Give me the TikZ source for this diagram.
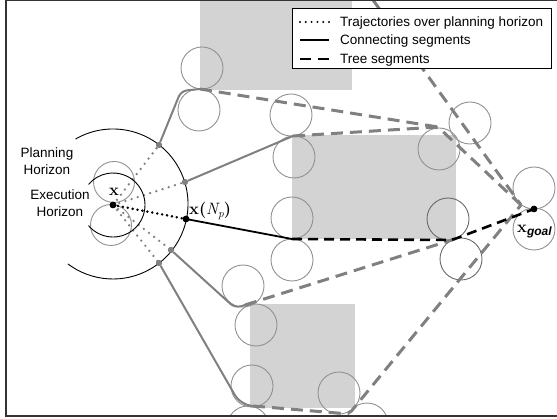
\documentclass[tikz,border=0pt]{standalone}
\usepackage{fontspec}
\newfontfamily\lsans{Liberation Sans}
\newfontfamily\lmr{Latin Modern Roman}
\definecolor{rectgray}{RGB}{211,211,211}
\definecolor{circgray}{RGB}{145,145,145}
\definecolor{circdark}{RGB}{105,105,105}
\definecolor{trajgray}{RGB}{128,128,128}
\begin{document}
\begin{tikzpicture}[x=1pt,y=-1pt,
  circ/.style={draw=circgray, line width=0.9pt},
  circd/.style={draw=circdark, line width=0.9pt},
  traj/.style={draw=trajgray, line width=2pt, rounded corners=6pt},
  tree/.style={draw=trajgray, line width=3pt, dash pattern=on 12pt off 7pt, rounded corners=4pt},
  treeblk/.style={draw=black, line width=2.6pt, dash pattern=on 10pt off 6pt, rounded corners=4pt},
  conn/.style={draw=black, line width=1.8pt},
  dotg/.style={draw=trajgray, line width=2.6pt, line cap=round, dash pattern=on 0pt off 6.5pt},
  dotb/.style={draw=black, line width=2.8pt, line cap=round, dash pattern=on 0pt off 5pt},
  hor/.style={draw=black, line width=0.9pt},
  gdot/.style={circle, fill=trajgray, inner sep=0pt, minimum size=6pt},
  bdot/.style={circle, fill=black, inner sep=0pt, minimum size=6.5pt},
  lbl/.style={font=\lsans\fontsize{13.5}{17.5}\selectfont, align=center, inner sep=0pt},
  legtxt/.style={font=\lsans\fontsize{13.5}{16}\selectfont, anchor=west, inner sep=0pt},
  mlbl/.style={font=\lmr\fontsize{16.5}{18}\selectfont, inner sep=0pt},
]
\useasboundingbox (0,0) rectangle (557,419);
\begin{scope}
\clip (6,0) rectangle (557,416);
% obstacles
\fill[rectgray] (200,0) rectangle (352,90);
\fill[rectgray] (292,135) rectangle (456,239);
\fill[rectgray] (250,304) rectangle (355,408);
% turning circles
\foreach \cx/\cy in {202/68, 199/110, 291/115, 294/157, 292/218, 292/260, 243/286,
  256/325, 252/386, 248/427, 339/393, 367/424, 470/123, 439/149, 534/188, 534/229}
  \draw[circ] (\cx,\cy) circle[radius=21];
\draw[circd] (448,219) circle[radius=21];
\draw[circd] (461,259) circle[radius=21];
\draw[circ] (114,182) circle[radius=20.5];
\draw[circ] (111,225) circle[radius=20.5];
% nodes
\node[bdot] (x) at (113,205) {};
\node[bdot] (xn) at (186,219) {};
\node[gdot] (g1) at (159,145) {};
\node[gdot] (g2) at (185,182) {};
\node[gdot] (g3) at (171,250) {};
\node[gdot] (g4) at (159,263) {};
\node[bdot] (goal) at (534,209) {};
\coordinate (a1) at (181,91);
\coordinate (t1) at (200,89);
\coordinate (t2) at (293,136);
\coordinate (m1) at (438,127);
\coordinate (mg) at (521,205);
\coordinate (top) at (373,0);
\coordinate (b1) at (235,308);
\coordinate (t3) at (245,305);
\coordinate (c) at (455,239);
\coordinate (b2) at (240,404);
\coordinate (t5) at (253,406);
\coordinate (b3) at (349,414);
\coordinate (t4) at (292,239);
\coordinate (c2) at (452,240);
% tree segments (gray dashed)
\draw[tree] (t1) -- (m1);
\draw[tree] (t2) -- (m1) -- (mg);
\draw[tree] (top) -- (mg);
\draw[tree] (t3) -- (c);
\draw[tree] (t5) -- (b3) -- (mg);
% trajectories (gray solid)
\draw[traj] (g1) -- (a1) -- (t1);
\draw[traj] (g2) -- (t2);
\draw[traj] (g3) -- (b1) -- (t3);
\draw[traj, rounded corners=10pt] (g4) -- (b2) -- (t5);
% dotted trajectories over planning horizon
\draw[dotg] (x.center) -- (g1.center);
\draw[dotg] (x.center) -- (g2.center);
\draw[dotg] (x.center) -- (g3.center);
\draw[dotg] (x.center) -- (g4.center);
\draw[dotb] (x.center) -- (xn.center);
% connecting segment and black tree segment
\draw[conn] (xn.center) -- (t4);
\draw[treeblk] (t4) -- (c2) -- (goal.center);
% horizons
\draw[hor] ([shift={(140:32)}]113,205) arc[start angle=140, end angle=-140, radius=32];
\draw[hor] ([shift={(-120:75)}]113,204) arc[start angle=-120, end angle=127, radius=75];
% redraw dots on top
\node[bdot] at (x) {};
\node[bdot] at (xn) {};
\node[gdot] at (g1) {};
\node[gdot] at (g2) {};
\node[gdot] at (g3) {};
\node[gdot] at (g4) {};
\node[bdot] at (goal) {};
% labels
\node[lbl] (lp) at (47,161) {Planning\\Horizon};
\node[lbl] (le) at (60,203) {Execution\\Horizon};
\node[mlbl] (lx) at (114,192) {\bfseries x};
\node[mlbl, anchor=base west] (lxn) at (189,215) {\bfseries x(\mdseries\itshape N\raisebox{-3pt}{\fontsize{11.5}{12}\selectfont p}\upshape\bfseries)};
\node[mlbl, anchor=base west] (lg) at (517,233) {\bfseries x\raisebox{-3pt}{\lsans\bfseries\itshape\fontsize{12}{12}\selectfont goal}};
% legend
\draw[fill=white, line width=1pt] (292,9) rectangle (551,69);
\coordinate (l1a) at (300,22); \coordinate (l1b) at (329,22);
\coordinate (l2a) at (300,40); \coordinate (l2b) at (329,40);
\coordinate (l3a) at (300,59); \coordinate (l3b) at (329,59);
\draw[dotb, line width=2.2pt, dash pattern=on 0pt off 5.8pt] (l1a) -- (l1b);
\draw[conn, line width=2.6pt] (l2a) -- (l2b);
\draw[treeblk, line width=2.8pt, dash pattern=on 11pt off 7pt] (l3a) -- (l3b);
\node[legtxt] (lt1) at (340,23) {Trajectories over planning horizon};
\node[legtxt] (lt2) at (340,41.5) {Connecting segments};
\node[legtxt] (lt3) at (340,60.5) {Tree segments};
\end{scope}
% frame
\draw[black!80, line width=1.5pt] (557,0.75) -- (6,0.75) -- (6,416) -- (557,416);
\end{tikzpicture}
\end{document}
